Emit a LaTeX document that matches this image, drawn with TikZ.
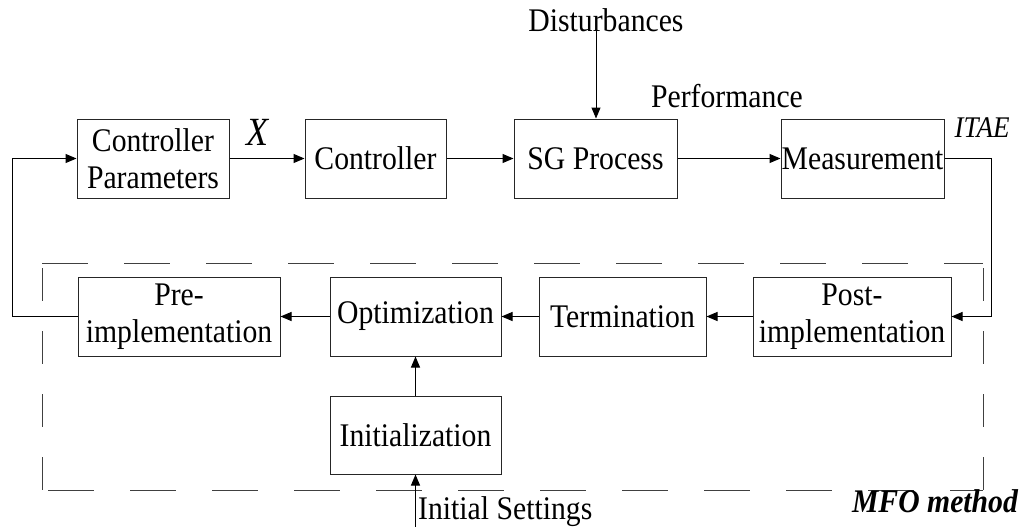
\documentclass[tikz,border=0pt]{standalone}
\usepackage{fontspec}
\setmainfont{Liberation Serif}[FakeStretch=0.9]
\usetikzlibrary{arrows.meta}
\begin{document}
\begin{tikzpicture}[x=1pt,y=-1pt,
  blk/.style={draw=black!85, line width=1pt, inner sep=0pt, align=center,
    font=\fontsize{33}{37}\selectfont},
  lbl/.style={inner sep=0pt, font=\fontsize{33}{37}\selectfont},
  conn/.style={line width=1pt, -{Triangle[length=11pt,width=9pt]}},
  hdash/.style={draw=black!75, line width=1pt, dash pattern=on 46pt off 36pt},
  vdash/.style={draw=black!75, line width=1pt, dash pattern=on 33pt off 30pt}]
\useasboundingbox (0,0) rectangle (1036,527);

% MFO boundary
\draw[hdash] (42,263) -- (983,263);
\draw[hdash] (48,490) -- (983,490);
\draw[vdash] (42,268) -- (42,490);
\draw[vdash] (983,268) -- (983,490);

% control loop
\node[blk, minimum width=152pt, minimum height=79pt] (cp) at (153,158.5) {Controller\\Parameters};
\node[blk, minimum width=141pt, minimum height=79pt] (ctrl) at (375.5,158.5) {Controller};
\node[blk, minimum width=163pt, minimum height=79pt] (sg) at (595.5,158.5) {SG Process};
\node[blk, minimum width=163pt, minimum height=79pt] (meas) at (862.5,158.5) {Measurement};

% MFO stages
\node[blk, minimum width=202pt, minimum height=79pt] (pre) at (179,316.5) {Pre-\\implementation};
\node[blk, minimum width=171pt, minimum height=79pt] (opt) at (415.5,316.5) {Optimization};
\node[blk, minimum width=167pt, minimum height=79pt] (term) at (622.5,316.5) {Termination};
\node[blk, minimum width=198pt, minimum height=79pt] (post) at (852,316.5) {Post-\\implementation};
\node[blk, minimum width=171pt, minimum height=78pt] (init) at (415.5,435) {Initialization};

% labels
\node[lbl, anchor=base] (dist) at (606,32) {Disturbances};
\node[lbl, anchor=base] (perf) at (727,107) {Performance};
\node[lbl, anchor=base, font=\fontsize{30}{34}\selectfont\itshape] (itae) at (982,137) {ITAE};
\node[lbl, anchor=base, font=\fontsize{40}{44}\selectfont\itshape] (xlab) at (257,145) {X};
\node[lbl, anchor=base west] (iset) at (418,519) {Initial Settings};
\node[lbl, anchor=base, font=\fontsize{33}{37}\selectfont\bfseries\itshape] (mfo) at (935,512) {MFO method};

\coordinate (dtop) at (596,23);
\coordinate (ibot) at (415.5,527);
\coordinate (lfb1) at (12,316.5);
\coordinate (lfb2) at (12,158.5);
\coordinate (rfb1) at (991,158.5);
\coordinate (rfb2) at (991,316.5);

% connectors
\draw[conn] (cp) -- (ctrl);
\draw[conn] (ctrl) -- (sg);
\draw[conn] (sg) -- (meas);
\draw[conn] (dtop) -- (dtop |- sg.north);
\draw[conn] (meas.east) -- (rfb1) -- (rfb2) -- (post.east);
\draw[conn] (post) -- (term);
\draw[conn] (term) -- (opt);
\draw[conn] (opt) -- (pre);
\draw[conn] (init) -- (opt);
\draw[conn] (ibot) -- (init.south);
\draw[conn] (pre.west) -- (lfb1) -- (lfb2) -- (cp.west);
\end{tikzpicture}
\end{document}
